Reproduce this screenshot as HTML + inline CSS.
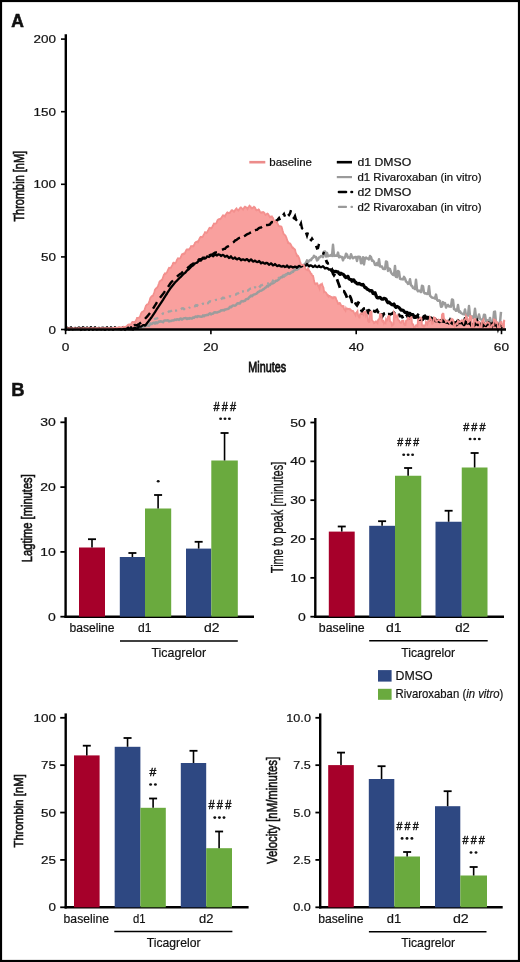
<!DOCTYPE html>
<html><head><meta charset="utf-8"><style>
html,body{margin:0;padding:0;background:#fff;}
svg{display:block;will-change:transform;}
text{font-family:"Liberation Sans", sans-serif;}
</style></head><body>
<svg width="520" height="962" viewBox="0 0 520 962">
<rect x="0" y="0" width="520" height="962" fill="#fff"/>
<text transform="translate(11.36,26.8) scale(0.9563,1)" font-size="18.261" font-weight="bold" fill="#111" stroke="#111" stroke-width="0.6">A</text>
<path d="M66 329.5 L66.0 328.3 L66.5 328.3 L67.0 328.3 L67.5 328.3 L68.0 328.3 L68.5 328.3 L69.0 328.3 L69.5 328.2 L70.0 328.3 L70.5 328.3 L71.0 328.3 L71.5 328.3 L72.0 328.3 L72.5 328.3 L73.0 328.3 L73.5 328.3 L74.0 328.3 L74.5 328.2 L75.0 328.3 L75.5 328.3 L76.0 328.3 L76.5 328.3 L77.0 328.3 L77.5 328.3 L78.0 328.3 L78.5 328.2 L79.0 328.2 L79.5 328.3 L80.0 328.3 L80.5 328.3 L81.0 328.3 L81.5 328.3 L82.0 328.3 L82.5 328.3 L83.0 328.2 L83.5 328.2 L84.0 328.2 L84.5 328.3 L85.0 328.3 L85.5 328.3 L86.0 328.3 L86.5 328.2 L87.0 328.2 L87.5 328.2 L88.0 328.2 L88.5 328.2 L89.0 328.2 L89.5 328.3 L90.0 328.3 L90.5 328.3 L91.0 328.2 L91.5 328.2 L92.0 328.2 L92.5 328.2 L93.0 328.2 L93.5 328.2 L94.0 328.3 L94.5 328.3 L95.0 328.2 L95.5 328.2 L96.0 328.2 L96.5 328.2 L97.0 328.2 L97.5 328.2 L98.0 328.2 L98.5 328.2 L99.0 328.3 L99.5 328.3 L100.0 328.2 L100.5 328.2 L101.0 328.2 L101.5 328.2 L102.0 328.2 L102.5 328.2 L103.0 328.2 L103.5 328.3 L104.0 328.2 L104.5 328.2 L105.0 328.2 L105.5 328.2 L106.0 328.2 L106.5 328.2 L107.0 328.2 L107.5 328.2 L108.0 328.3 L108.5 328.2 L109.0 328.2 L109.5 328.2 L110.0 328.1 L110.5 328.1 L111.0 328.1 L111.5 328.1 L112.0 328.1 L112.5 328.1 L113.0 328.0 L113.5 327.9 L114.0 327.9 L114.5 327.8 L115.0 327.7 L115.5 327.7 L116.0 327.7 L116.5 327.8 L117.0 327.8 L117.5 327.7 L118.0 327.6 L118.5 327.4 L119.0 327.3 L119.5 327.2 L120.0 327.4 L120.5 327.3 L121.0 327.4 L121.5 327.5 L122.0 327.3 L122.5 327.3 L123.0 327.1 L123.5 326.8 L124.0 326.9 L124.5 326.9 L125.0 327.1 L125.5 326.9 L126.0 326.7 L126.5 326.3 L127.0 326.0 L127.5 325.5 L128.0 324.8 L128.5 324.6 L129.0 324.4 L129.5 324.4 L130.0 324.6 L130.5 324.8 L131.0 324.4 L131.5 323.2 L132.0 322.4 L132.5 321.9 L133.0 321.9 L133.5 322.1 L134.0 322.1 L134.5 321.9 L135.0 322.7 L135.5 321.8 L136.0 320.4 L136.5 319.5 L137.0 318.0 L137.5 318.0 L138.0 317.9 L138.5 317.9 L139.0 317.7 L139.5 317.3 L140.0 316.5 L140.5 315.0 L141.0 313.7 L141.5 312.8 L142.0 312.1 L142.5 311.6 L143.0 311.6 L143.5 311.4 L144.0 310.8 L144.5 309.8 L145.0 308.3 L145.5 307.2 L146.0 305.6 L146.5 305.2 L147.0 304.6 L147.5 304.4 L148.0 304.2 L148.5 303.7 L149.0 302.0 L149.5 301.2 L150.0 299.0 L150.5 297.8 L151.0 297.1 L151.5 296.3 L152.0 296.0 L152.5 296.2 L153.0 295.8 L153.5 294.2 L154.0 293.0 L154.5 291.5 L155.0 289.6 L155.5 289.0 L156.0 288.4 L156.5 288.3 L157.0 287.7 L157.5 287.1 L158.0 286.2 L158.5 284.6 L159.0 283.3 L159.5 281.8 L160.0 281.2 L160.5 280.7 L161.0 280.5 L161.5 279.8 L162.0 280.0 L162.5 278.8 L163.0 277.4 L163.5 276.2 L164.0 274.6 L164.5 274.1 L165.0 273.4 L165.5 273.9 L166.0 273.4 L166.5 273.0 L167.0 272.3 L167.5 271.0 L168.0 269.8 L168.5 269.0 L169.0 267.8 L169.5 268.0 L170.0 267.8 L170.5 267.9 L171.0 267.8 L171.5 266.5 L172.0 265.7 L172.5 265.0 L173.0 263.3 L173.5 262.7 L174.0 262.7 L174.5 263.1 L175.0 263.5 L175.5 262.8 L176.0 262.5 L176.5 261.0 L177.0 259.7 L177.5 258.9 L178.0 258.2 L178.5 258.6 L179.0 258.5 L179.5 258.3 L180.0 258.3 L180.5 257.8 L181.0 256.7 L181.5 255.3 L182.0 254.3 L182.5 254.1 L183.0 254.3 L183.5 253.6 L184.0 253.7 L184.5 253.9 L185.0 253.0 L185.5 251.7 L186.0 250.6 L186.5 249.7 L187.0 249.4 L187.5 249.7 L188.0 249.8 L188.5 249.4 L189.0 249.6 L189.5 249.0 L190.0 248.4 L190.5 247.5 L191.0 246.1 L191.5 246.1 L192.0 246.3 L192.5 246.0 L193.0 246.4 L193.5 246.2 L194.0 245.0 L194.5 244.3 L195.0 242.8 L195.5 242.3 L196.0 241.9 L196.5 242.0 L197.0 241.6 L197.5 241.4 L198.0 242.0 L198.5 241.0 L199.0 240.0 L199.5 238.7 L200.0 237.7 L200.5 237.0 L201.0 236.8 L201.5 237.0 L202.0 237.3 L202.5 237.1 L203.0 236.3 L203.5 235.1 L204.0 234.1 L204.5 233.4 L205.0 232.3 L205.5 232.6 L206.0 232.4 L206.5 233.0 L207.0 232.7 L207.5 231.6 L208.0 230.4 L208.5 229.7 L209.0 228.6 L209.5 227.9 L210.0 227.8 L210.5 228.1 L211.0 228.3 L211.5 228.3 L212.0 227.6 L212.5 226.5 L213.0 225.5 L213.5 224.4 L214.0 223.6 L214.5 223.7 L215.0 223.6 L215.5 223.6 L216.0 223.4 L216.5 222.9 L217.0 221.5 L217.5 220.2 L218.0 219.6 L218.5 219.3 L219.0 219.1 L219.5 219.0 L220.0 219.3 L220.5 219.1 L221.0 218.1 L221.5 217.7 L222.0 216.8 L222.5 216.1 L223.0 215.4 L223.5 215.9 L224.0 215.5 L224.5 215.7 L225.0 216.4 L225.5 215.2 L226.0 214.2 L226.5 213.4 L227.0 212.7 L227.5 212.3 L228.0 212.7 L228.5 213.1 L229.0 212.9 L229.5 213.0 L230.0 212.6 L230.5 211.5 L231.0 211.1 L231.5 210.3 L232.0 210.2 L232.5 210.3 L233.0 211.0 L233.5 211.4 L234.0 211.9 L234.5 211.3 L235.0 210.1 L235.5 209.7 L236.0 208.8 L236.5 208.4 L237.0 209.3 L237.5 209.6 L238.0 210.2 L238.5 210.5 L239.0 209.9 L239.5 208.7 L240.0 208.0 L240.5 207.5 L241.0 207.5 L241.5 208.2 L242.0 208.4 L242.5 208.9 L243.0 209.5 L243.5 208.4 L244.0 208.2 L244.5 207.1 L245.0 206.7 L245.5 207.0 L246.0 207.4 L246.5 207.6 L247.0 208.0 L247.5 208.9 L248.0 207.8 L248.5 207.0 L249.0 206.6 L249.5 205.8 L250.0 206.3 L250.5 206.4 L251.0 207.8 L251.5 207.8 L252.0 208.5 L252.5 208.3 L253.0 207.7 L253.5 207.3 L254.0 206.7 L254.5 207.1 L255.0 207.6 L255.5 208.6 L256.0 209.9 L256.5 210.3 L257.0 210.0 L257.5 210.1 L258.0 210.1 L258.5 209.4 L259.0 209.7 L259.5 210.8 L260.0 211.7 L260.5 212.4 L261.0 212.8 L261.5 212.4 L262.0 212.6 L262.5 212.2 L263.0 212.0 L263.5 212.1 L264.0 212.6 L264.5 213.1 L265.0 214.4 L265.5 215.0 L266.0 214.5 L266.5 214.3 L267.0 213.8 L267.5 213.5 L268.0 213.9 L268.5 214.6 L269.0 215.6 L269.5 216.6 L270.0 217.3 L270.5 216.6 L271.0 216.5 L271.5 217.0 L272.0 216.6 L272.5 217.5 L273.0 218.0 L273.5 219.4 L274.0 220.6 L274.5 221.9 L275.0 222.0 L275.5 221.5 L276.0 221.9 L276.5 221.9 L277.0 222.0 L277.5 223.6 L278.0 224.4 L278.5 225.7 L279.0 226.1 L279.5 226.4 L280.0 226.2 L280.5 226.4 L281.0 226.4 L281.5 226.8 L282.0 228.3 L282.5 230.2 L283.0 231.7 L283.5 233.8 L284.0 234.1 L284.5 234.8 L285.0 235.2 L285.5 235.6 L286.0 237.0 L286.5 237.9 L287.0 239.7 L287.5 240.9 L288.0 242.7 L288.5 242.4 L289.0 243.3 L289.5 243.5 L290.0 243.4 L290.5 244.0 L291.0 245.1 L291.5 245.9 L292.0 247.1 L292.5 247.8 L293.0 247.6 L293.5 248.4 L294.0 248.5 L294.5 249.2 L295.0 249.6 L295.5 251.4 L296.0 253.0 L296.5 254.4 L297.0 255.8 L297.5 255.5 L298.0 255.9 L298.5 256.9 L299.0 257.9 L299.5 259.2 L300.0 261.8 L300.5 262.7 L301.0 264.5 L301.5 265.1 L302.0 264.9 L302.5 264.7 L303.0 264.9 L303.5 264.9 L304.0 265.6 L304.5 266.8 L305.0 267.5 L305.5 268.7 L306.0 269.5 L306.5 269.7 L307.0 269.8 L307.5 270.1 L308.0 268.5 L308.5 269.1 L309.0 270.6 L309.5 271.1 L310.0 271.7 L310.5 273.0 L311.0 273.8 L311.5 273.8 L312.0 275.2 L312.5 275.6 L313.0 275.7 L313.5 277.6 L314.0 280.8 L314.5 282.4 L315.0 283.9 L315.5 284.2 L316.0 283.5 L316.5 283.6 L317.0 283.3 L317.5 284.0 L318.0 285.5 L318.5 286.5 L319.0 287.3 L319.5 288.5 L320.0 284.9 L320.5 284.5 L321.0 285.0 L321.5 284.5 L322.0 283.9 L322.5 285.3 L323.0 286.5 L323.5 287.7 L324.0 291.9 L324.5 291.4 L325.0 292.0 L325.5 292.3 L326.0 292.6 L326.5 293.4 L327.0 294.2 L327.5 295.4 L328.0 295.2 L328.5 296.5 L329.0 295.8 L329.5 295.8 L330.0 296.5 L330.5 296.4 L331.0 296.8 L331.5 297.4 L332.0 297.2 L332.5 298.3 L333.0 298.3 L333.5 298.2 L334.0 297.0 L334.5 297.3 L335.0 297.1 L335.5 297.3 L336.0 298.6 L336.5 299.9 L337.0 301.0 L337.5 302.0 L338.0 303.7 L338.5 303.4 L339.0 303.7 L339.5 303.0 L340.0 303.1 L340.5 304.1 L341.0 305.4 L341.5 305.6 L342.0 306.3 L342.5 306.6 L343.0 305.9 L343.5 306.0 L344.0 308.7 L344.5 309.6 L345.0 309.9 L345.5 310.7 L346.0 308.2 L346.5 309.2 L347.0 309.0 L347.5 308.6 L348.0 309.1 L348.5 308.9 L349.0 308.8 L349.5 309.4 L350.0 309.1 L350.5 309.6 L351.0 310.4 L351.5 310.4 L352.0 311.0 L352.5 310.9 L353.0 310.9 L353.5 311.6 L354.0 312.7 L354.5 313.6 L355.0 314.3 L355.5 315.2 L356.0 312.8 L356.5 312.5 L357.0 311.9 L357.5 311.1 L358.0 314.9 L358.5 316.4 L359.0 316.9 L359.5 318.3 L360.0 314.3 L360.5 313.7 L361.0 313.9 L361.5 313.6 L362.0 313.2 L362.5 313.5 L363.0 314.1 L363.5 314.8 L364.0 312.1 L364.5 312.2 L365.0 312.0 L365.5 311.7 L366.0 315.6 L366.5 314.5 L367.0 314.5 L367.5 315.2 L368.0 321.0 L368.5 321.6 L369.0 322.1 L369.5 321.8 L370.0 312.4 L370.5 312.1 L371.0 311.7 L371.5 311.5 L372.0 320.2 L372.5 320.6 L373.0 321.3 L373.5 321.8 L374.0 323.3 L374.5 323.1 L375.0 322.5 L375.5 321.5 L376.0 321.3 L376.5 321.8 L377.0 322.7 L377.5 323.2 L378.0 320.4 L378.5 319.4 L379.0 319.0 L379.5 318.8 L380.0 314.1 L380.5 314.0 L381.0 314.9 L381.5 314.8 L382.0 320.5 L382.5 321.4 L383.0 320.9 L383.5 320.7 L384.0 323.2 L384.5 322.3 L385.0 322.5 L385.5 323.0 L386.0 319.3 L386.5 320.2 L387.0 320.5 L387.5 320.0 L388.0 316.7 L388.5 316.0 L389.0 316.2 L389.5 316.1 L390.0 321.3 L390.5 321.5 L391.0 322.1 L391.5 322.5 L392.0 325.7 L392.5 325.3 L393.0 324.8 L393.5 324.4 L394.0 312.5 L394.5 313.4 L395.0 313.5 L395.5 314.4 L396.0 317.2 L396.5 317.0 L397.0 316.5 L397.5 315.8 L398.0 319.8 L398.5 320.1 L399.0 320.5 L399.5 321.0 L400.0 322.2 L400.5 322.8 L401.0 322.8 L401.5 322.4 L402.0 320.8 L402.5 320.7 L403.0 320.7 L403.5 320.8 L404.0 323.9 L404.5 324.8 L405.0 325.0 L405.5 325.0 L406.0 320.9 L406.5 320.6 L407.0 320.1 L407.5 319.7 L408.0 317.7 L408.5 317.9 L409.0 318.2 L409.5 318.7 L410.0 318.5 L410.5 318.1 L411.0 317.3 L411.5 317.2 L412.0 323.3 L412.5 324.4 L413.0 324.3 L413.5 325.0 L414.0 327.9 L414.5 327.7 L415.0 327.1 L415.5 326.6 L416.0 325.3 L416.5 325.1 L417.0 325.7 L417.5 326.1 L418.0 319.5 L418.5 319.8 L419.0 319.4 L419.5 319.1 L420.0 318.3 L420.5 317.6 L421.0 317.5 L421.5 318.6 L422.0 325.2 L422.5 325.8 L423.0 325.8 L423.5 325.5 L424.0 326.5 L424.5 325.5 L425.0 325.5 L425.5 325.3 L426.0 321.9 L426.5 322.6 L427.0 322.9 L427.5 324.0 L428.0 321.8 L428.5 320.7 L429.0 320.4 L429.5 320.3 L430.0 317.5 L430.5 318.4 L431.0 319.1 L431.5 319.5 L432.0 323.7 L432.5 323.8 L433.0 323.2 L433.5 322.5 L434.0 317.4 L434.5 317.7 L435.0 318.1 L435.5 318.4 L436.0 321.0 L436.5 321.5 L437.0 321.0 L437.5 320.6 L438.0 320.2 L438.5 319.6 L439.0 319.7 L439.5 320.4 L440.0 320.5 L440.5 321.2 L441.0 321.5 L441.5 321.3 L442.0 314.6 L442.5 314.0 L443.0 313.6 L443.5 313.8 L444.0 318.9 L444.5 319.1 L445.0 320.0 L445.5 320.2 L446.0 322.0 L446.5 321.7 L447.0 320.8 L447.5 320.6 L448.0 321.1 L448.5 321.9 L449.0 321.8 L449.5 322.9 L450.0 321.5 L450.5 321.0 L451.0 320.0 L451.5 320.2 L452.0 318.8 L452.5 319.1 L453.0 319.6 L453.5 320.5 L454.0 325.5 L454.5 326.4 L455.0 325.2 L455.5 325.1 L456.0 323.9 L456.5 323.3 L457.0 323.4 L457.5 323.9 L458.0 320.8 L458.5 321.6 L459.0 321.7 L459.5 321.5 L460.0 322.0 L460.5 321.3 L461.0 321.0 L461.5 321.1 L462.0 320.2 L462.5 320.9 L463.0 321.3 L463.5 322.3 L464.0 320.0 L464.5 319.7 L465.0 319.3 L465.5 318.8 L466.0 316.2 L466.5 317.5 L467.0 317.4 L467.5 318.3 L468.0 322.4 L468.5 322.1 L469.0 321.4 L469.5 320.9 L470.0 316.0 L470.5 316.1 L471.0 316.7 L471.5 317.3 L472.0 329.0 L472.5 329.0 L473.0 329.0 L473.5 329.0 L474.0 319.6 L474.5 319.0 L475.0 318.9 L475.5 319.3 L476.0 321.7 L476.5 321.8 L477.0 322.7 L477.5 322.3 L478.0 322.7 L478.5 321.9 L479.0 321.6 L479.5 322.0 L480.0 328.8 L480.5 329.0 L481.0 329.0 L481.5 329.0 L482.0 321.3 L482.5 320.7 L483.0 320.5 L483.5 319.7 L484.0 323.1 L484.5 323.6 L485.0 323.8 L485.5 324.4 L486.0 323.6 L486.5 323.5 L487.0 322.4 L487.5 322.1 L488.0 322.4 L488.5 322.7 L489.0 323.1 L489.5 323.4 L490.0 327.8 L490.5 328.7 L491.0 328.1 L491.5 327.5 L492.0 325.1 L492.5 324.6 L493.0 324.5 L493.5 325.0 L494.0 319.4 L494.5 319.7 L495.0 320.2 L495.5 320.2 L496.0 323.0 L496.5 322.5 L497.0 322.3 L497.5 322.5 L498.0 327.9 L498.5 328.2 L499.0 328.8 L499.5 329.0 L500.0 323.2 L500.5 322.6 L501.0 322.0 L501.5 322.0 L502.0 324.8 L502.5 325.4 L503.0 325.5 L503.5 326.2 L504.0 320.7 L504.5 320.8 L505.0 320.4 L505 329.5 Z" fill="#f9a09e"/>
<path d="M66.0 329.2 L67.0 328.9 L68.0 328.2 L69.0 329.8 L70.0 329.7 L71.0 328.6 L72.0 329.5 L73.0 328.9 L74.0 329.3 L75.0 329.2 L76.0 329.4 L77.0 328.9 L78.0 328.4 L79.0 329.5 L80.0 328.9 L81.0 328.9 L82.0 329.4 L83.0 329.3 L84.0 329.8 L85.0 328.8 L86.0 329.2 L87.0 328.3 L88.0 328.4 L89.0 328.6 L90.0 328.6 L91.0 328.9 L92.0 328.6 L93.0 329.7 L94.0 328.9 L95.0 328.8 L96.0 329.6 L97.0 329.5 L98.0 329.4 L99.0 329.7 L100.0 329.4 L101.0 328.7 L102.0 329.7 L103.0 328.2 L104.0 329.6 L105.0 328.9 L106.0 328.7 L107.0 329.0 L108.0 328.8 L109.0 329.6 L110.0 329.5 L111.0 329.4 L112.0 328.6 L113.0 328.9 L114.0 328.3 L115.0 329.4 L116.0 328.3 L117.0 328.8 L118.0 328.4 L119.0 329.6 L120.0 329.7 L121.0 328.7 L122.0 329.6 L123.0 328.5 L124.0 329.3 L125.0 328.6 L126.0 328.9 L127.0 329.2 L128.0 328.8 L129.0 328.5 L130.0 329.1 L131.0 329.5 L132.0 329.8 L133.0 328.7 L134.0 328.6 L135.0 328.3 L136.0 328.3 L137.0 327.7 L138.0 327.8 L139.0 328.3 L140.0 327.1 L141.0 327.6 L142.0 326.8 L143.0 326.4 L144.0 326.6 L145.0 326.2 L146.0 326.0 L147.0 325.2 L148.0 325.6 L149.0 325.9 L150.0 324.2 L151.0 323.7 L152.0 323.9 L153.0 322.9 L154.0 322.6 L155.0 323.6 L156.0 322.3 L157.0 323.2 L158.0 322.5 L159.0 321.4 L160.0 321.7 L161.0 321.2 L162.0 321.8 L163.0 322.2 L164.0 320.7 L165.0 320.5 L166.0 320.4 L167.0 320.6 L168.0 320.3 L169.0 321.4 L170.0 320.9 L171.0 321.1 L172.0 320.4 L173.0 320.6 L174.0 320.3 L175.0 319.5 L176.0 320.0 L177.0 319.3 L178.0 319.4 L179.0 319.9 L180.0 318.8 L181.0 318.6 L182.0 319.6 L183.0 318.8 L184.0 318.2 L185.0 318.3 L186.0 318.1 L187.0 319.0 L188.0 318.2 L189.0 318.8 L190.0 318.0 L191.0 318.5 L192.0 318.4 L193.0 317.6 L194.0 317.8 L195.0 316.9 L196.0 316.4 L197.0 317.1 L198.0 316.0 L199.0 316.5 L200.0 316.6 L201.0 316.7 L202.0 316.7 L203.0 315.4 L204.0 316.2 L205.0 315.3 L206.0 315.3 L207.0 314.8 L208.0 315.1 L209.0 314.0 L210.0 313.3 L211.0 314.4 L212.0 313.8 L213.0 313.7 L214.0 312.4 L215.0 312.3 L216.0 312.6 L217.0 312.5 L218.0 312.1 L219.0 311.7 L220.0 311.4 L221.0 310.3 L222.0 310.5 L223.0 310.0 L224.0 310.4 L225.0 309.6 L226.0 309.5 L227.0 309.0 L228.0 308.9 L229.0 308.4 L230.0 306.7 L231.0 307.2 L232.0 306.3 L233.0 305.4 L234.0 305.6 L235.0 305.7 L236.0 305.2 L237.0 303.6 L238.0 303.2 L239.0 303.5 L240.0 303.4 L241.0 301.5 L242.0 301.0 L243.0 301.5 L244.0 300.9 L245.0 300.7 L246.0 299.2 L247.0 299.1 L248.0 299.0 L249.0 297.6 L250.0 296.8 L251.0 295.6 L252.0 296.3 L253.0 295.1 L254.0 294.4 L255.0 294.2 L256.0 293.9 L257.0 293.3 L258.0 291.9 L259.0 291.7 L260.0 290.7 L261.0 290.8 L262.0 290.2 L263.0 289.4 L264.0 289.0 L265.0 287.9 L266.0 287.4 L267.0 286.1 L268.0 286.4 L269.0 285.1 L270.0 285.0 L271.0 283.5 L272.0 283.5 L273.0 283.2 L274.0 282.6 L275.0 281.8 L276.0 280.7 L277.0 280.7 L278.0 280.0 L279.0 279.2 L280.0 278.2 L281.0 277.2 L282.0 277.2 L283.0 275.7 L284.0 276.5 L285.0 275.0 L286.0 274.4 L287.0 274.1 L288.0 273.1 L289.0 273.8 L290.0 273.5 L291.0 272.7 L292.0 271.8 L293.0 271.9 L294.0 270.4 L295.0 270.1 L296.0 269.2 L297.0 269.0 L298.0 269.1 L299.0 268.1 L300.0 267.3 L301.0 266.8 L302.0 266.2 L303.0 265.5 L304.0 264.6 L305.0 264.1 L306.0 262.7 L307.0 260.4 L308.0 262.2 L309.0 260.7 L310.0 260.1 L311.0 260.2 L312.0 258.4 L313.0 257.8 L314.0 255.8 L315.0 256.9 L316.0 257.1 L317.0 260.4 L318.0 259.6 L319.0 257.5 L320.0 257.3 L321.0 256.0 L322.0 256.2 L323.0 257.2 L324.0 251.8 L325.0 251.6 L326.0 256.6 L327.0 252.9 L328.0 256.3 L329.0 255.7 L330.0 255.8 L331.0 254.9 L332.0 256.0 L333.0 244.8 L334.0 255.9 L335.0 255.5 L336.0 255.8 L337.0 255.8 L338.0 252.6 L339.0 257.3 L340.0 256.2 L341.0 256.9 L342.0 257.0 L343.0 260.3 L344.0 257.5 L345.0 257.6 L346.0 253.7 L347.0 254.7 L348.0 257.6 L349.0 257.3 L350.0 258.3 L351.0 254.2 L352.0 256.9 L353.0 258.2 L354.0 257.5 L355.0 257.1 L356.0 256.9 L357.0 261.0 L358.0 256.8 L359.0 256.8 L360.0 256.9 L361.0 263.3 L362.0 262.8 L363.0 257.2 L364.0 264.4 L365.0 257.9 L366.0 257.6 L367.0 258.4 L368.0 258.6 L369.0 259.5 L370.0 256.0 L371.0 257.1 L372.0 260.7 L373.0 260.6 L374.0 261.9 L375.0 264.8 L376.0 265.1 L377.0 263.1 L378.0 265.3 L379.0 259.2 L380.0 266.5 L381.0 266.4 L382.0 266.6 L383.0 268.7 L384.0 268.9 L385.0 269.1 L386.0 261.5 L387.0 261.9 L388.0 270.9 L389.0 268.4 L390.0 269.1 L391.0 272.4 L392.0 273.9 L393.0 274.8 L394.0 275.1 L395.0 266.0 L396.0 276.8 L397.0 277.1 L398.0 270.9 L399.0 271.7 L400.0 278.8 L401.0 279.2 L402.0 278.9 L403.0 279.4 L404.0 276.9 L405.0 278.4 L406.0 281.5 L407.0 282.2 L408.0 283.9 L409.0 283.6 L410.0 279.2 L411.0 285.4 L412.0 285.9 L413.0 287.9 L414.0 288.0 L415.0 289.0 L416.0 279.8 L417.0 289.7 L418.0 291.3 L419.0 290.5 L420.0 291.1 L421.0 292.2 L422.0 285.7 L423.0 286.3 L424.0 292.6 L425.0 293.4 L426.0 293.3 L427.0 293.9 L428.0 293.8 L429.0 286.2 L430.0 295.6 L431.0 296.7 L432.0 297.5 L433.0 297.8 L434.0 297.9 L435.0 298.6 L436.0 294.6 L437.0 299.8 L438.0 300.8 L439.0 300.3 L440.0 301.0 L441.0 306.8 L442.0 306.5 L443.0 302.1 L444.0 303.9 L445.0 303.0 L446.0 307.6 L447.0 305.6 L448.0 304.9 L449.0 306.4 L450.0 306.2 L451.0 306.7 L452.0 299.5 L453.0 299.9 L454.0 309.2 L455.0 309.2 L456.0 310.7 L457.0 310.6 L458.0 305.1 L459.0 311.9 L460.0 311.3 L461.0 313.0 L462.0 313.5 L463.0 314.1 L464.0 314.2 L465.0 309.4 L466.0 315.6 L467.0 315.4 L468.0 315.5 L469.0 306.1 L470.0 316.1 L471.0 317.3 L472.0 316.4 L473.0 318.0 L474.0 316.8 L475.0 308.8 L476.0 317.7 L477.0 318.4 L478.0 318.2 L479.0 314.5 L480.0 318.7 L481.0 319.4 L482.0 319.9 L483.0 319.9 L484.0 314.7 L485.0 315.0 L486.0 321.4 L487.0 320.3 L488.0 320.4 L489.0 322.0 L490.0 317.9 L491.0 322.1 L492.0 322.0 L493.0 323.0 L494.0 312.0 L495.0 311.6 L496.0 322.9 L497.0 323.0 L498.0 323.1 L499.0 323.6 L500.0 322.3 L501.0 311.9" fill="none" stroke="#9c9c9c" stroke-width="2.5" stroke-linejoin="round"/>
<path d="M66.0 328.7 L67.0 328.6 L68.0 328.8 L69.0 329.3 L70.0 328.4 M74.0 329.3 L75.0 329.5 L76.0 329.4 M79.0 329.8 L80.0 329.2 L81.0 329.7 L82.0 329.7 L83.0 328.6 M86.0 329.2 L87.0 328.6 L88.0 328.4 M91.0 329.5 L92.0 328.9 L93.0 328.6 L94.0 328.2 L95.0 329.3 M99.0 329.7 L100.0 328.2 M104.0 329.8 L105.0 328.3 L106.0 329.4 L107.0 328.6 M110.0 328.4 L111.0 328.7 L112.0 329.6 M116.0 328.4 L117.0 328.4 L118.0 328.8 L119.0 329.4 L120.0 328.9 M124.0 328.9 L125.0 329.2 L126.0 329.3 M130.0 329.4 L131.0 329.5 L132.0 329.4 L133.0 328.9 L134.0 329.6 M138.0 328.4 L139.0 327.1 M142.0 326.4 L143.0 326.6 L144.0 326.4 L145.0 325.5 L146.0 324.9 M149.0 323.1 L150.0 321.8 M154.0 319.3 L155.0 318.8 L156.0 318.6 L157.0 318.5 L158.0 317.5 M162.0 314.5 L163.0 313.4 L164.0 313.6 M168.0 312.4 L169.0 311.3 L170.0 311.3 L171.0 311.0 L172.0 310.4 M175.0 310.7 L176.0 310.6 L177.0 310.2 M181.0 309.3 L182.0 308.4 L183.0 308.2 L184.0 309.2 L185.0 308.2 M189.0 308.3 L190.0 307.0 M194.0 306.0 L195.0 306.2 L196.0 305.2 L197.0 305.7 L198.0 304.3 M202.0 304.3 L203.0 303.6 L204.0 303.8 M207.0 303.1 L208.0 303.2 L209.0 301.9 L210.0 301.3 L211.0 301.6 M215.0 300.3 L216.0 299.8 L217.0 299.8 M221.0 299.4 L222.0 298.4 L223.0 297.6 L224.0 298.1 L225.0 297.3 M229.0 296.8 L230.0 296.2 L231.0 296.6 M235.0 294.5 L236.0 294.6 L237.0 293.5 L238.0 293.4 L239.0 292.6 M242.0 291.5 L243.0 291.4 L244.0 291.3 M247.0 290.6 L248.0 290.6 L249.0 289.5 L250.0 288.7 L251.0 288.5 M254.0 287.5 L255.0 287.2 L256.0 287.9 M259.0 285.8 L260.0 286.8 L261.0 285.3 L262.0 285.1 L263.0 284.6 M267.0 283.5 L268.0 283.6 L269.0 282.9 M272.0 282.4 L273.0 280.8 L274.0 281.7 L275.0 281.2 M278.0 278.4 L279.0 277.8 L280.0 278.2 M283.0 276.0 L284.0 275.4 L285.0 275.5 L286.0 275.3 L287.0 274.2 M291.0 272.6 L292.0 272.5 M296.0 269.8 L297.0 269.6 L298.0 268.0" fill="none" stroke="#a2a2a2" stroke-width="2.3"/>
<path d="M66.0 328.0 L67.0 328.0 L68.0 328.5 L69.0 329.4 L70.0 328.1 L71.0 327.9 L72.0 328.3 L73.0 329.4 L74.0 328.7 L75.0 327.9 L76.0 328.4 L77.0 329.0 L78.0 329.0 L79.0 327.4 L80.0 328.0 L81.0 329.5 L82.0 328.9 L83.0 327.2 L84.0 328.0 L85.0 329.6 L86.0 328.6 L87.0 327.4 L88.0 328.3 L89.0 329.7 L90.0 328.0 L91.0 327.3 L92.0 328.4 L93.0 329.7 L94.0 328.3 L95.0 327.2 L96.0 328.7 L97.0 329.6 L98.0 328.1 L99.0 327.8 L100.0 328.6 L101.0 329.3 L102.0 328.6 L103.0 327.6 L104.0 328.8 L105.0 329.9 L106.0 328.3 L107.0 327.2 L108.0 328.4 L109.0 329.5 L110.0 328.3 L111.0 327.3 L112.0 328.2 L113.0 329.7 L114.0 328.7 L115.0 327.2 L116.0 328.3 L117.0 329.2 L118.0 328.1 L119.0 327.9 L120.0 328.3 L121.0 329.5 L122.0 328.4 L123.0 327.2 L124.0 328.0 L125.0 329.6 L126.0 328.6 L127.0 327.6 L128.0 328.1 L129.0 329.2 L130.0 328.4 L131.0 327.2 L132.0 328.4 L133.0 329.6 L134.0 328.0 L135.0 327.9 L136.0 328.2 L137.0 328.7 L138.0 327.7 L139.0 326.1 L140.0 326.7 L141.0 326.6 L142.0 325.9 L143.0 325.1 L144.0 325.1 L145.0 325.6 L146.0 324.6 L147.0 323.2 L148.0 321.9 L149.0 320.6 L150.0 319.4 L151.0 318.0 L152.0 316.6 L153.0 315.1 L154.0 313.7 L155.0 312.2 L156.0 310.5 L157.0 308.9 L158.0 307.3 L159.0 305.8 L160.0 304.3 L161.0 302.8 L162.0 301.3 L163.0 299.8 L164.0 298.2 L165.0 296.6 L166.0 295.0 L167.0 293.5 L168.0 291.9 L169.0 290.4 L170.0 288.8 L171.0 287.5 L172.0 286.3 L173.0 285.1 L174.0 283.8 L175.0 282.6 L176.0 281.5 L177.0 280.6 L178.0 279.5 L179.0 278.4 L180.0 277.5 L181.0 276.7 L182.0 275.6 L183.0 274.4 L184.0 273.6 L185.0 272.9 L186.0 271.7 L187.0 270.5 L188.0 269.8 L189.0 269.0 L190.0 268.0 L191.0 266.8 L192.0 265.9 L193.0 265.4 L194.0 264.5 L195.0 263.3 L196.0 263.0 L197.0 262.6 L198.0 261.6 L199.0 260.3 L200.0 260.5 L201.0 260.6 L202.0 259.2 L203.0 258.3 L204.0 258.6 L205.0 258.6 L206.0 258.0 L207.0 256.4 L208.0 256.7 L209.0 257.0 L210.0 256.0 L211.0 255.4 L212.0 255.2 L213.0 256.3 L214.0 255.4 L215.0 253.8 L216.0 255.0 L217.0 255.6 L218.0 254.5 L219.0 254.5 L220.0 254.8 L221.0 256.0 L222.0 255.3 L223.0 254.9 L224.0 255.6 L225.0 256.8 L226.0 256.4 L227.0 255.8 L228.0 256.8 L229.0 258.0 L230.0 257.5 L231.0 256.3 L232.0 257.8 L233.0 258.8 L234.0 258.3 L235.0 257.4 L236.0 258.7 L237.0 259.4 L238.0 258.8 L239.0 258.2 L240.0 259.1 L241.0 260.3 L242.0 259.6 L243.0 259.3 L244.0 259.8 L245.0 260.3 L246.0 259.6 L247.0 259.1 L248.0 260.1 L249.0 261.3 L250.0 260.3 L251.0 259.4 L252.0 260.4 L253.0 261.6 L254.0 261.2 L255.0 260.6 L256.0 261.5 L257.0 262.1 L258.0 261.9 L259.0 261.0 L260.0 261.8 L261.0 263.4 L262.0 262.7 L263.0 262.5 L264.0 263.2 L265.0 263.7 L266.0 263.0 L267.0 262.8 L268.0 263.7 L269.0 264.8 L270.0 264.1 L271.0 263.3 L272.0 264.2 L273.0 265.4 L274.0 265.0 L275.0 264.0 L276.0 265.0 L277.0 266.0 L278.0 265.8 L279.0 265.2 L280.0 265.9 L281.0 266.4 L282.0 266.6 L283.0 265.9 L284.0 266.3 L285.0 267.0 L286.0 266.7 L287.0 265.5 L288.0 266.7 L289.0 267.6 L290.0 266.7 L291.0 266.5 L292.0 266.9 L293.0 267.5 L294.0 267.2 L295.0 266.6 L296.0 266.9 L297.0 267.8 L298.0 266.7 L299.0 266.0 L300.0 266.1 L301.0 266.6 L302.0 266.2 L303.0 265.1 L304.0 265.5 L305.0 266.0 L306.0 265.5 L307.0 264.0 L308.0 265.3 L309.0 266.4 L310.0 265.3 L311.0 265.4 L312.0 266.0 L313.0 267.0 L314.0 266.5 L315.0 265.4 L316.0 266.6 L317.0 267.0 L318.0 266.8 L319.0 265.7 L320.0 266.9 L321.0 267.3 L322.0 266.8 L323.0 266.2 L324.0 267.3 L325.0 268.5 L326.0 268.0 L327.0 268.1 L328.0 268.6 L329.0 269.7 L330.0 269.5 L331.0 269.3 L332.0 270.5" fill="none" stroke="#000" stroke-width="2.3" stroke-linejoin="round"/>
<path d="M331.0 270.2 L332.0 270.9 L333.0 270.9 L334.0 271.6 L335.0 271.6 L336.0 271.4 L337.0 272.0 L338.0 271.8 L339.0 273.5 L340.0 274.4 L341.0 273.2 L342.0 273.9 L343.0 274.3 L344.0 275.1 L345.0 276.9 L346.0 277.6 L347.0 276.7 L348.0 276.3 L349.0 278.9 L350.0 279.4 L351.0 279.5 L352.0 281.2 L353.0 279.8 L354.0 280.1 L355.0 282.1 L356.0 282.4 L357.0 283.7 L358.0 284.0 L359.0 283.4 L360.0 284.1 L361.0 284.5 L362.0 285.0 L363.0 284.5 L364.0 286.0 L365.0 287.7 L366.0 287.6 L367.0 289.0 L368.0 289.5 L369.0 290.1 L370.0 290.9 L371.0 290.5 L372.0 290.7 L373.0 293.4 L374.0 293.6 L375.0 292.6 L376.0 295.5 L377.0 297.7 L378.0 297.9 L379.0 297.6 L380.0 297.3 L381.0 298.4 L382.0 299.2 L383.0 299.2 L384.0 298.3 L385.0 298.5 L386.0 299.1 L387.0 301.3 L388.0 302.7 L389.0 302.1 L390.0 303.2 L391.0 303.9 L392.0 304.7 L393.0 304.8 L394.0 304.0 L395.0 306.3 L396.0 307.4 L397.0 306.4 L398.0 306.9 L399.0 307.5 L400.0 308.7 L401.0 310.2 L402.0 310.0 L403.0 310.3 L404.0 311.2 L405.0 312.4 L406.0 312.6 L407.0 312.3 L408.0 314.1 L409.0 313.4 L410.0 313.4 L411.0 314.9 L412.0 314.6 L413.0 314.7 L414.0 316.4 L415.0 317.1 L416.0 316.4 L417.0 316.5 L418.0 317.5 L419.0 318.9 L420.0 319.5 L421.0 319.3 L422.0 319.9 L423.0 318.4 L424.0 316.4 L425.0 316.0 L426.0 317.7 L427.0 317.8 L428.0 317.3 L429.0 319.6 L430.0 318.8 L431.0 317.9 L432.0 318.8 L433.0 319.9 L434.0 319.2 L435.0 319.0 L436.0 320.7 L437.0 320.7 L438.0 320.5 L439.0 321.4 L440.0 321.6 L441.0 320.8 L442.0 320.5 L443.0 321.2 L444.0 321.3 L445.0 321.5 L446.0 321.9 L447.0 322.3 L448.0 321.8 L449.0 321.2 L450.0 322.2 L451.0 322.5 L452.0 323.1 L453.0 323.2 L454.0 323.1 L455.0 324.3 L456.0 324.3 L457.0 322.2 L458.0 320.7 L459.0 322.0 L460.0 322.8 L461.0 322.6 L462.0 322.8 L463.0 323.6 L464.0 324.6 L465.0 323.0 L466.0 322.4 L467.0 323.0 L468.0 322.0 L469.0 322.8 L470.0 323.7 L471.0 323.6 L472.0 325.6 L473.0 326.3 L474.0 325.4 L475.0 324.3 L476.0 322.7 L477.0 324.0 L478.0 324.7 L479.0 323.9 L480.0 324.0 L481.0 324.1 L482.0 326.2 L483.0 326.0 L484.0 324.1 L485.0 324.6 L486.0 325.1 L487.0 324.2 L488.0 322.8 L489.0 323.3 L490.0 324.5 L491.0 324.5 L492.0 324.0 L493.0 324.0 L494.0 324.5 L495.0 325.2 L496.0 324.4 L497.0 324.2 L498.0 325.7 L499.0 326.0 L500.0 324.9 L501.0 324.8 L502.0 325.7" fill="none" stroke="#000" stroke-width="3.2" stroke-linejoin="round"/>
<path d="M66.0 328.6 L67.0 327.7 L68.0 328.4 L69.0 328.9 L70.0 328.1 L71.0 327.6 L72.0 328.9 L73.0 329.5 M77.0 328.6 L78.0 328.1 L79.0 328.4 L80.0 328.3 L81.0 329.5 L82.0 328.5 L83.0 328.1 L84.0 328.5 M88.0 328.4 L89.0 329.3 L90.0 328.3 L91.0 327.7 L92.0 328.9 L93.0 329.0 L94.0 328.2 L95.0 328.3 M99.0 327.8 L100.0 328.6 L101.0 329.0 L102.0 328.0 L103.0 328.5 L104.0 328.3 L105.0 328.9 L106.0 328.9 M110.0 328.0 L111.0 328.2 L112.0 328.6 L113.0 329.2 L114.0 328.6 L115.0 327.9 L116.0 328.7 L117.0 329.0 L118.0 328.7 M122.0 328.5 L123.0 328.1 L124.0 328.2 L125.0 329.3 L126.0 328.1 L127.0 327.2 L128.0 327.8 L129.0 327.4 M134.0 325.6 L135.0 324.8 L136.0 325.1 L137.0 325.5 L138.0 324.4 L139.0 324.0 L140.0 323.4 L141.0 322.5 M145.0 318.8 L146.0 317.7 L147.0 316.6 L148.0 315.4 L149.0 314.2 L150.0 313.0 M153.0 308.7 L154.0 307.1 L155.0 305.5 L156.0 303.8 L157.0 302.2 M160.0 297.8 L161.0 296.5 L162.0 295.2 L163.0 294.0 L164.0 292.6 L165.0 291.1 M168.0 286.9 L169.0 285.5 L170.0 284.0 L171.0 282.6 L172.0 281.5 L173.0 280.5 M177.0 276.7 L178.0 275.7 L179.0 274.9 L180.0 274.1 L181.0 273.7 L182.0 272.5 L183.0 271.6 M187.0 268.2 L188.0 267.6 L189.0 266.8 L190.0 265.9 L191.0 264.9 L192.0 264.4 L193.0 263.8 L194.0 262.8 M198.0 260.7 L199.0 259.4 L200.0 259.2 L201.0 259.5 L202.0 258.7 L203.0 257.7 L204.0 257.7 L205.0 257.4 M209.0 255.8 L210.0 255.0 L211.0 254.7 L212.0 254.4 L213.0 254.0 L214.0 253.2 L215.0 252.6 L216.0 252.4 L217.0 252.4 M222.0 249.9 L223.0 249.4 L224.0 248.9 L225.0 248.8 L226.0 247.6 L227.0 246.8 L228.0 246.4 L229.0 246.0 M233.0 242.5 L234.0 241.9 L235.0 240.6 L236.0 240.2 L237.0 239.6 L238.0 238.7 L239.0 238.0 L240.0 237.7 M244.0 236.3 L245.0 235.8 L246.0 235.0 L247.0 234.3 L248.0 233.9 L249.0 233.5 L250.0 232.8 L251.0 232.4 M255.0 230.3 L256.0 229.9 L257.0 229.9 L258.0 228.9 L259.0 228.1 L260.0 227.6 L261.0 227.5 L262.0 226.8 M266.0 225.1 L267.0 225.0 L268.0 225.1 L269.0 224.7 L270.0 224.5 L271.0 222.9 L272.0 222.0 L273.0 222.2 M276.0 219.3 L277.0 221.0 L278.0 219.1 L279.0 218.0 L280.0 220.3 M283.0 215.3 L284.0 214.0 L285.0 216.7 M288.0 214.0 L289.0 215.0 L290.0 213.4 L291.0 210.1 M293.0 217.1 L294.0 218.1 L295.0 216.1 L296.0 219.6 L297.0 220.7 M300.0 225.8 L301.0 223.5 L302.0 228.4 L303.0 229.1 M306.0 232.7 L307.0 235.6 L308.0 232.5 M310.0 239.2 L311.0 240.1 L312.0 238.5 L313.0 240.1 M316.0 245.9 L317.0 248.4 L318.0 248.0 L319.0 243.9 M323.0 254.7 L324.0 251.8 M327.0 263.0 L328.0 263.2" fill="none" stroke="#000" stroke-width="2.4"/>
<path d="M326.0 259.9 L327.0 262.6 L328.0 263.3 L329.0 263.1 M331.0 271.5 L332.0 270.1 L333.0 273.7 L334.0 275.2 L335.0 273.8 M337.0 279.3 L338.0 282.1 L339.0 284.9 L340.0 287.8 M343.0 291.2 L344.0 291.3 L345.0 293.1 L346.0 295.1 L347.0 297.7 M349.0 295.7 L350.0 296.3 L351.0 298.4 L352.0 301.8 L353.0 301.8 M355.0 302.4 L356.0 304.1 L357.0 305.3 L358.0 303.5 L359.0 301.5 M361.0 309.5 L362.0 311.7 L363.0 309.5 L364.0 308.5 L365.0 308.3 M367.0 309.3 L368.0 312.5 L369.0 310.5 L370.0 309.3 M373.0 310.8 L374.0 311.0 L375.0 311.6 L376.0 310.9 L377.0 310.1 L378.0 312.1 L379.0 312.7 M381.0 313.3 L382.0 316.9 L383.0 315.3 L384.0 313.7 L385.0 313.4 M388.0 314.2 L389.0 314.1 L390.0 314.6 L391.0 314.0 L392.0 313.8 L393.0 312.9 L394.0 312.8 L395.0 314.3 M398.0 315.0 L399.0 314.8 L400.0 316.1 L401.0 316.1 L402.0 316.2 L403.0 318.3 M406.0 316.4 L407.0 315.3 L408.0 317.4 L409.0 317.8 L410.0 315.7 M413.0 316.0 L414.0 317.4 L415.0 317.5 L416.0 317.2 L417.0 316.3 L418.0 314.9 L419.0 315.4 M421.0 320.3 L422.0 319.0 L423.0 319.2 L424.0 318.1 L425.0 317.8 L426.0 318.3 L427.0 317.7 L428.0 318.0 M431.0 320.6 L432.0 320.6 L433.0 319.6 L434.0 320.8 L435.0 320.5 L436.0 320.9 L437.0 321.5 M440.0 321.1 L441.0 320.4 L442.0 320.5 L443.0 320.1 L444.0 320.7 L445.0 321.3 L446.0 320.0 M448.0 324.3 L449.0 322.5 L450.0 320.3 L451.0 322.5 M454.0 325.8 L455.0 322.6 L456.0 322.5 L457.0 324.5 L458.0 323.6 M461.0 321.7 L462.0 321.9 L463.0 321.7 L464.0 321.9 L465.0 318.6 L466.0 318.8 M469.0 322.4 L470.0 322.6 L471.0 323.7 L472.0 326.3 L473.0 324.8 L474.0 324.8 M476.0 322.1 L477.0 320.6 L478.0 323.1 L479.0 323.0 L480.0 323.2 M482.0 323.9 L483.0 322.5 L484.0 324.1 L485.0 325.3 L486.0 325.7 L487.0 325.6 M490.0 323.8 L491.0 324.3 L492.0 326.2 L493.0 323.5 L494.0 322.1 M497.0 324.7 L498.0 328.5 L499.0 325.3 M501.0 327.7 L502.0 328.4" fill="none" stroke="#000" stroke-width="2.8"/>
<path d="M66.0 328.3 L66.5 328.3 L67.0 328.3 L67.5 328.3 L68.0 328.3 L68.5 328.3 L69.0 328.3 L69.5 328.2 L70.0 328.3 L70.5 328.3 L71.0 328.3 L71.5 328.3 L72.0 328.3 L72.5 328.3 L73.0 328.3 L73.5 328.3 L74.0 328.3 L74.5 328.2 L75.0 328.3 L75.5 328.3 L76.0 328.3 L76.5 328.3 L77.0 328.3 L77.5 328.3 L78.0 328.3 L78.5 328.2 L79.0 328.2 L79.5 328.3 L80.0 328.3 L80.5 328.3 L81.0 328.3 L81.5 328.3 L82.0 328.3 L82.5 328.3 L83.0 328.2 L83.5 328.2 L84.0 328.2 L84.5 328.3 L85.0 328.3 L85.5 328.3 L86.0 328.3 L86.5 328.2 L87.0 328.2 L87.5 328.2 L88.0 328.2 L88.5 328.2 L89.0 328.2 L89.5 328.3 L90.0 328.3 L90.5 328.3 L91.0 328.2 L91.5 328.2 L92.0 328.2 L92.5 328.2 L93.0 328.2 L93.5 328.2 L94.0 328.3 L94.5 328.3 L95.0 328.2 L95.5 328.2 L96.0 328.2 L96.5 328.2 L97.0 328.2 L97.5 328.2 L98.0 328.2 L98.5 328.2 L99.0 328.3 L99.5 328.3 L100.0 328.2 L100.5 328.2 L101.0 328.2 L101.5 328.2 L102.0 328.2 L102.5 328.2 L103.0 328.2 L103.5 328.3 L104.0 328.2 L104.5 328.2 L105.0 328.2 L105.5 328.2 L106.0 328.2 L106.5 328.2 L107.0 328.2 L107.5 328.2 L108.0 328.3 L108.5 328.2 L109.0 328.2 L109.5 328.2 L110.0 328.1 L110.5 328.1 L111.0 328.1 L111.5 328.1 L112.0 328.1 L112.5 328.1 L113.0 328.0 L113.5 327.9 L114.0 327.9 L114.5 327.8 L115.0 327.7 L115.5 327.7 L116.0 327.7 L116.5 327.8 L117.0 327.8 L117.5 327.7 L118.0 327.6 L118.5 327.4 L119.0 327.3 L119.5 327.2 L120.0 327.4 L120.5 327.3 L121.0 327.4 L121.5 327.5 L122.0 327.3 L122.5 327.3 L123.0 327.1 L123.5 326.8 L124.0 326.9 L124.5 326.9 L125.0 327.1 L125.5 326.9 L126.0 326.7 L126.5 326.3 L127.0 326.0 L127.5 325.5 L128.0 324.8 L128.5 324.6 L129.0 324.4 L129.5 324.4 L130.0 324.6 L130.5 324.8 L131.0 324.4 L131.5 323.2 L132.0 322.4 L132.5 321.9 L133.0 321.9 L133.5 322.1 L134.0 322.1 L134.5 321.9 L135.0 322.7 L135.5 321.8 L136.0 320.4 L136.5 319.5 L137.0 318.0 L137.5 318.0 L138.0 317.9 L138.5 317.9 L139.0 317.7 L139.5 317.3 L140.0 316.5 L140.5 315.0 L141.0 313.7 L141.5 312.8 L142.0 312.1 L142.5 311.6 L143.0 311.6 L143.5 311.4 L144.0 310.8 L144.5 309.8 L145.0 308.3 L145.5 307.2 L146.0 305.6 L146.5 305.2 L147.0 304.6 L147.5 304.4 L148.0 304.2 L148.5 303.7 L149.0 302.0 L149.5 301.2 L150.0 299.0 L150.5 297.8 L151.0 297.1 L151.5 296.3 L152.0 296.0 L152.5 296.2 L153.0 295.8 L153.5 294.2 L154.0 293.0 L154.5 291.5 L155.0 289.6 L155.5 289.0 L156.0 288.4 L156.5 288.3 L157.0 287.7 L157.5 287.1 L158.0 286.2 L158.5 284.6 L159.0 283.3 L159.5 281.8 L160.0 281.2 L160.5 280.7 L161.0 280.5 L161.5 279.8 L162.0 280.0 L162.5 278.8 L163.0 277.4 L163.5 276.2 L164.0 274.6 L164.5 274.1 L165.0 273.4 L165.5 273.9 L166.0 273.4 L166.5 273.0 L167.0 272.3 L167.5 271.0 L168.0 269.8 L168.5 269.0 L169.0 267.8 L169.5 268.0 L170.0 267.8 L170.5 267.9 L171.0 267.8 L171.5 266.5 L172.0 265.7 L172.5 265.0 L173.0 263.3 L173.5 262.7 L174.0 262.7 L174.5 263.1 L175.0 263.5 L175.5 262.8 L176.0 262.5 L176.5 261.0 L177.0 259.7 L177.5 258.9 L178.0 258.2 L178.5 258.6 L179.0 258.5 L179.5 258.3 L180.0 258.3 L180.5 257.8 L181.0 256.7 L181.5 255.3 L182.0 254.3 L182.5 254.1 L183.0 254.3 L183.5 253.6 L184.0 253.7 L184.5 253.9 L185.0 253.0 L185.5 251.7 L186.0 250.6 L186.5 249.7 L187.0 249.4 L187.5 249.7 L188.0 249.8 L188.5 249.4 L189.0 249.6 L189.5 249.0 L190.0 248.4 L190.5 247.5 L191.0 246.1 L191.5 246.1 L192.0 246.3 L192.5 246.0 L193.0 246.4 L193.5 246.2 L194.0 245.0 L194.5 244.3 L195.0 242.8 L195.5 242.3 L196.0 241.9 L196.5 242.0 L197.0 241.6 L197.5 241.4 L198.0 242.0 L198.5 241.0 L199.0 240.0 L199.5 238.7 L200.0 237.7 L200.5 237.0 L201.0 236.8 L201.5 237.0 L202.0 237.3 L202.5 237.1 L203.0 236.3 L203.5 235.1 L204.0 234.1 L204.5 233.4 L205.0 232.3 L205.5 232.6 L206.0 232.4 L206.5 233.0 L207.0 232.7 L207.5 231.6 L208.0 230.4 L208.5 229.7 L209.0 228.6 L209.5 227.9 L210.0 227.8 L210.5 228.1 L211.0 228.3 L211.5 228.3 L212.0 227.6 L212.5 226.5 L213.0 225.5 L213.5 224.4 L214.0 223.6 L214.5 223.7 L215.0 223.6 L215.5 223.6 L216.0 223.4 L216.5 222.9 L217.0 221.5 L217.5 220.2 L218.0 219.6 L218.5 219.3 L219.0 219.1 L219.5 219.0 L220.0 219.3 L220.5 219.1 L221.0 218.1 L221.5 217.7 L222.0 216.8 L222.5 216.1 L223.0 215.4 L223.5 215.9 L224.0 215.5 L224.5 215.7 L225.0 216.4 L225.5 215.2 L226.0 214.2 L226.5 213.4 L227.0 212.7 L227.5 212.3 L228.0 212.7 L228.5 213.1 L229.0 212.9 L229.5 213.0 L230.0 212.6 L230.5 211.5 L231.0 211.1 L231.5 210.3 L232.0 210.2 L232.5 210.3 L233.0 211.0 L233.5 211.4 L234.0 211.9 L234.5 211.3 L235.0 210.1 L235.5 209.7 L236.0 208.8 L236.5 208.4 L237.0 209.3 L237.5 209.6 L238.0 210.2 L238.5 210.5 L239.0 209.9 L239.5 208.7 L240.0 208.0 L240.5 207.5 L241.0 207.5 L241.5 208.2 L242.0 208.4 L242.5 208.9 L243.0 209.5 L243.5 208.4 L244.0 208.2 L244.5 207.1 L245.0 206.7 L245.5 207.0 L246.0 207.4 L246.5 207.6 L247.0 208.0 L247.5 208.9 L248.0 207.8 L248.5 207.0 L249.0 206.6 L249.5 205.8 L250.0 206.3 L250.5 206.4 L251.0 207.8 L251.5 207.8 L252.0 208.5 L252.5 208.3 L253.0 207.7 L253.5 207.3 L254.0 206.7 L254.5 207.1 L255.0 207.6 L255.5 208.6 L256.0 209.9 L256.5 210.3 L257.0 210.0 L257.5 210.1 L258.0 210.1 L258.5 209.4 L259.0 209.7 L259.5 210.8 L260.0 211.7 L260.5 212.4 L261.0 212.8 L261.5 212.4 L262.0 212.6 L262.5 212.2 L263.0 212.0 L263.5 212.1 L264.0 212.6 L264.5 213.1 L265.0 214.4 L265.5 215.0 L266.0 214.5 L266.5 214.3 L267.0 213.8 L267.5 213.5 L268.0 213.9 L268.5 214.6 L269.0 215.6 L269.5 216.6 L270.0 217.3 L270.5 216.6 L271.0 216.5 L271.5 217.0 L272.0 216.6 L272.5 217.5 L273.0 218.0 L273.5 219.4 L274.0 220.6 L274.5 221.9 L275.0 222.0 L275.5 221.5 L276.0 221.9 L276.5 221.9 L277.0 222.0 L277.5 223.6 L278.0 224.4 L278.5 225.7 L279.0 226.1 L279.5 226.4 L280.0 226.2 L280.5 226.4 L281.0 226.4 L281.5 226.8 L282.0 228.3 L282.5 230.2 L283.0 231.7 L283.5 233.8 L284.0 234.1 L284.5 234.8 L285.0 235.2 L285.5 235.6 L286.0 237.0 L286.5 237.9 L287.0 239.7 L287.5 240.9 L288.0 242.7 L288.5 242.4 L289.0 243.3 L289.5 243.5 L290.0 243.4 L290.5 244.0 L291.0 245.1 L291.5 245.9 L292.0 247.1 L292.5 247.8 L293.0 247.6 L293.5 248.4 L294.0 248.5 L294.5 249.2 L295.0 249.6 L295.5 251.4 L296.0 253.0 L296.5 254.4 L297.0 255.8 L297.5 255.5 L298.0 255.9 L298.5 256.9 L299.0 257.9 L299.5 259.2 L300.0 261.8 L300.5 262.7 L301.0 264.5 L301.5 265.1 L302.0 264.9 L302.5 264.7 L303.0 264.9 L303.5 264.9 L304.0 265.6 L304.5 266.8 L305.0 267.5 L305.5 268.7 L306.0 269.5 L306.5 269.7 L307.0 269.8 L307.5 270.1 L308.0 268.5 L308.5 269.1 L309.0 270.6 L309.5 271.1 L310.0 271.7 L310.5 273.0 L311.0 273.8 L311.5 273.8 L312.0 275.2 L312.5 275.6 L313.0 275.7 L313.5 277.6 L314.0 280.8 L314.5 282.4 L315.0 283.9 L315.5 284.2 L316.0 283.5 L316.5 283.6 L317.0 283.3 L317.5 284.0 L318.0 285.5 L318.5 286.5 L319.0 287.3 L319.5 288.5 L320.0 284.9 L320.5 284.5 L321.0 285.0 L321.5 284.5 L322.0 283.9 L322.5 285.3 L323.0 286.5 L323.5 287.7 L324.0 291.9 L324.5 291.4 L325.0 292.0 L325.5 292.3 L326.0 292.6 L326.5 293.4 L327.0 294.2 L327.5 295.4 L328.0 295.2 L328.5 296.5 L329.0 295.8 L329.5 295.8 L330.0 296.5 L330.5 296.4 L331.0 296.8 L331.5 297.4 L332.0 297.2 L332.5 298.3 L333.0 298.3 L333.5 298.2 L334.0 297.0 L334.5 297.3 L335.0 297.1 L335.5 297.3 L336.0 298.6 L336.5 299.9 L337.0 301.0 L337.5 302.0 L338.0 303.7 L338.5 303.4 L339.0 303.7 L339.5 303.0 L340.0 303.1 L340.5 304.1 L341.0 305.4 L341.5 305.6 L342.0 306.3 L342.5 306.6 L343.0 305.9 L343.5 306.0 L344.0 308.7 L344.5 309.6 L345.0 309.9 L345.5 310.7 L346.0 308.2 L346.5 309.2 L347.0 309.0 L347.5 308.6 L348.0 309.1 L348.5 308.9 L349.0 308.8 L349.5 309.4 L350.0 309.1 L350.5 309.6 L351.0 310.4 L351.5 310.4 L352.0 311.0 L352.5 310.9 L353.0 310.9 L353.5 311.6 L354.0 312.7 L354.5 313.6 L355.0 314.3 L355.5 315.2 L356.0 312.8 L356.5 312.5 L357.0 311.9 L357.5 311.1 L358.0 314.9 L358.5 316.4 L359.0 316.9 L359.5 318.3 L360.0 314.3 L360.5 313.7 L361.0 313.9 L361.5 313.6 L362.0 313.2 L362.5 313.5 L363.0 314.1 L363.5 314.8 L364.0 312.1 L364.5 312.2 L365.0 312.0 L365.5 311.7 L366.0 315.6 L366.5 314.5 L367.0 314.5 L367.5 315.2 L368.0 321.0 L368.5 321.6 L369.0 322.1 L369.5 321.8 L370.0 312.4 L370.5 312.1 L371.0 311.7 L371.5 311.5 L372.0 320.2 L372.5 320.6 L373.0 321.3 L373.5 321.8 L374.0 323.3 L374.5 323.1 L375.0 322.5 L375.5 321.5 L376.0 321.3 L376.5 321.8 L377.0 322.7 L377.5 323.2 L378.0 320.4 L378.5 319.4 L379.0 319.0 L379.5 318.8 L380.0 314.1 L380.5 314.0 L381.0 314.9 L381.5 314.8 L382.0 320.5 L382.5 321.4 L383.0 320.9 L383.5 320.7 L384.0 323.2 L384.5 322.3 L385.0 322.5 L385.5 323.0 L386.0 319.3 L386.5 320.2 L387.0 320.5 L387.5 320.0 L388.0 316.7 L388.5 316.0 L389.0 316.2 L389.5 316.1 L390.0 321.3 L390.5 321.5 L391.0 322.1 L391.5 322.5 L392.0 325.7 L392.5 325.3 L393.0 324.8 L393.5 324.4 L394.0 312.5 L394.5 313.4 L395.0 313.5 L395.5 314.4 L396.0 317.2 L396.5 317.0 L397.0 316.5 L397.5 315.8 L398.0 319.8 L398.5 320.1 L399.0 320.5 L399.5 321.0 L400.0 322.2 L400.5 322.8 L401.0 322.8 L401.5 322.4 L402.0 320.8 L402.5 320.7 L403.0 320.7 L403.5 320.8 L404.0 323.9 L404.5 324.8 L405.0 325.0 L405.5 325.0 L406.0 320.9 L406.5 320.6 L407.0 320.1 L407.5 319.7 L408.0 317.7 L408.5 317.9 L409.0 318.2 L409.5 318.7 L410.0 318.5 L410.5 318.1 L411.0 317.3 L411.5 317.2 L412.0 323.3 L412.5 324.4 L413.0 324.3 L413.5 325.0 L414.0 327.9 L414.5 327.7 L415.0 327.1 L415.5 326.6 L416.0 325.3 L416.5 325.1 L417.0 325.7 L417.5 326.1 L418.0 319.5 L418.5 319.8 L419.0 319.4 L419.5 319.1 L420.0 318.3 L420.5 317.6 L421.0 317.5 L421.5 318.6 L422.0 325.2 L422.5 325.8 L423.0 325.8 L423.5 325.5 L424.0 326.5 L424.5 325.5 L425.0 325.5 L425.5 325.3 L426.0 321.9 L426.5 322.6 L427.0 322.9 L427.5 324.0 L428.0 321.8 L428.5 320.7 L429.0 320.4 L429.5 320.3 L430.0 317.5 L430.5 318.4 L431.0 319.1 L431.5 319.5 L432.0 323.7 L432.5 323.8 L433.0 323.2 L433.5 322.5 L434.0 317.4 L434.5 317.7 L435.0 318.1 L435.5 318.4 L436.0 321.0 L436.5 321.5 L437.0 321.0 L437.5 320.6 L438.0 320.2 L438.5 319.6 L439.0 319.7 L439.5 320.4 L440.0 320.5 L440.5 321.2 L441.0 321.5 L441.5 321.3 L442.0 314.6 L442.5 314.0 L443.0 313.6 L443.5 313.8 L444.0 318.9 L444.5 319.1 L445.0 320.0 L445.5 320.2 L446.0 322.0 L446.5 321.7 L447.0 320.8 L447.5 320.6 L448.0 321.1 L448.5 321.9 L449.0 321.8 L449.5 322.9 L450.0 321.5 L450.5 321.0 L451.0 320.0 L451.5 320.2 L452.0 318.8 L452.5 319.1 L453.0 319.6 L453.5 320.5 L454.0 325.5 L454.5 326.4 L455.0 325.2 L455.5 325.1 L456.0 323.9 L456.5 323.3 L457.0 323.4 L457.5 323.9 L458.0 320.8 L458.5 321.6 L459.0 321.7 L459.5 321.5 L460.0 322.0 L460.5 321.3 L461.0 321.0 L461.5 321.1 L462.0 320.2 L462.5 320.9 L463.0 321.3 L463.5 322.3 L464.0 320.0 L464.5 319.7 L465.0 319.3 L465.5 318.8 L466.0 316.2 L466.5 317.5 L467.0 317.4 L467.5 318.3 L468.0 322.4 L468.5 322.1 L469.0 321.4 L469.5 320.9 L470.0 316.0 L470.5 316.1 L471.0 316.7 L471.5 317.3 L472.0 329.0 L472.5 329.0 L473.0 329.0 L473.5 329.0 L474.0 319.6 L474.5 319.0 L475.0 318.9 L475.5 319.3 L476.0 321.7 L476.5 321.8 L477.0 322.7 L477.5 322.3 L478.0 322.7 L478.5 321.9 L479.0 321.6 L479.5 322.0 L480.0 328.8 L480.5 329.0 L481.0 329.0 L481.5 329.0 L482.0 321.3 L482.5 320.7 L483.0 320.5 L483.5 319.7 L484.0 323.1 L484.5 323.6 L485.0 323.8 L485.5 324.4 L486.0 323.6 L486.5 323.5 L487.0 322.4 L487.5 322.1 L488.0 322.4 L488.5 322.7 L489.0 323.1 L489.5 323.4 L490.0 327.8 L490.5 328.7 L491.0 328.1 L491.5 327.5 L492.0 325.1 L492.5 324.6 L493.0 324.5 L493.5 325.0 L494.0 319.4 L494.5 319.7 L495.0 320.2 L495.5 320.2 L496.0 323.0 L496.5 322.5 L497.0 322.3 L497.5 322.5 L498.0 327.9 L498.5 328.2 L499.0 328.8 L499.5 329.0 L500.0 323.2 L500.5 322.6 L501.0 322.0 L501.5 322.0 L502.0 324.8 L502.5 325.4 L503.0 325.5 L503.5 326.2 L504.0 320.7 L504.5 320.8 L505.0 320.4" fill="none" stroke="#f3908e" stroke-width="1.8"/>
<line x1="65.8" y1="34.2" x2="65.8" y2="330.7" stroke="#000" stroke-width="2.4"/>
<line x1="64.8" y1="329.5" x2="506" y2="329.5" stroke="#000" stroke-width="2.4"/>
<line x1="61" y1="329.5" x2="65.8" y2="329.5" stroke="#000" stroke-width="1.6"/>
<text transform="translate(48.47,333.55) scale(1.1632,1)" font-size="11.571" font-weight="normal" fill="#111" stroke="#111" stroke-width="0.2">0</text>
<line x1="61" y1="256.9" x2="65.8" y2="256.9" stroke="#000" stroke-width="1.6"/>
<text transform="translate(41,260.95) scale(1.1632,1)" font-size="11.571" font-weight="normal" fill="#111" stroke="#111" stroke-width="0.2">50</text>
<line x1="61" y1="184.3" x2="65.8" y2="184.3" stroke="#000" stroke-width="1.6"/>
<text transform="translate(33.53,188.35) scale(1.1632,1)" font-size="11.571" font-weight="normal" fill="#111" stroke="#111" stroke-width="0.2">100</text>
<line x1="61" y1="111.7" x2="65.8" y2="111.7" stroke="#000" stroke-width="1.6"/>
<text transform="translate(33.53,115.75) scale(1.1632,1)" font-size="11.571" font-weight="normal" fill="#111" stroke="#111" stroke-width="0.2">150</text>
<line x1="61" y1="39.1" x2="65.8" y2="39.1" stroke="#000" stroke-width="1.6"/>
<text transform="translate(33.53,43.15) scale(1.1632,1)" font-size="11.571" font-weight="normal" fill="#111" stroke="#111" stroke-width="0.2">200</text>
<line x1="65.6" y1="329.5" x2="65.6" y2="334.2" stroke="#000" stroke-width="1.6"/>
<text transform="translate(61.82,350.5) scale(1.1777,1)" font-size="11.571" font-weight="normal" fill="#111" stroke="#111" stroke-width="0.2">0</text>
<line x1="210.9" y1="329.5" x2="210.9" y2="334.2" stroke="#000" stroke-width="1.6"/>
<text transform="translate(203.27,350.5) scale(1.1777,1)" font-size="11.571" font-weight="normal" fill="#111" stroke="#111" stroke-width="0.2">20</text>
<line x1="356.2" y1="329.5" x2="356.2" y2="334.2" stroke="#000" stroke-width="1.6"/>
<text transform="translate(348.74,350.5) scale(1.1777,1)" font-size="11.571" font-weight="normal" fill="#111" stroke="#111" stroke-width="0.2">40</text>
<line x1="501.5" y1="329.5" x2="501.5" y2="334.2" stroke="#000" stroke-width="1.6"/>
<text transform="translate(493.87,350.5) scale(1.1777,1)" font-size="11.571" font-weight="normal" fill="#111" stroke="#111" stroke-width="0.2">60</text>
<text transform="translate(248.34,371.8) scale(0.7107,1)" font-size="15.172" font-weight="normal" fill="#111" stroke="#111" stroke-width="0.8">Minutes</text>
<text transform="translate(24.3,221.62) rotate(-90) scale(0.7731,1)" font-size="14.207" font-weight="normal" fill="#111" stroke="#111" stroke-width="0.6">Thrombin [nM]</text>
<line x1="249.3" y1="162.2" x2="265.3" y2="162.2" stroke="#ec8c8b" stroke-width="2.6"/>
<text transform="translate(269.25,166.3) scale(1.0951,1)" font-size="10.483" font-weight="normal" fill="#111" stroke="#111" stroke-width="0.2">baseline</text>
<line x1="336.8" y1="162.2" x2="352" y2="162.2" stroke="#000" stroke-width="2.6"/>
<text transform="translate(357.51,166) scale(1.1669,1)" font-size="10.483" font-weight="normal" fill="#111" stroke="#111" stroke-width="0.2">d1 DMSO</text>
<line x1="336.8" y1="177.1" x2="352" y2="177.1" stroke="#9a9a9a" stroke-width="2.2"/>
<text transform="translate(357.54,180.9) scale(1.0883,1)" font-size="10.483" font-weight="normal" fill="#111" stroke="#111" stroke-width="0.2">d1 Rivaroxaban (in vitro)</text>
<line x1="338.9" y1="192" x2="346" y2="192" stroke="#000" stroke-width="2.6" stroke-linecap="round"/>
<line x1="351.5" y1="192" x2="352" y2="192" stroke="#000" stroke-width="2.6" stroke-linecap="round"/>
<text transform="translate(357.51,195.8) scale(1.1669,1)" font-size="10.483" font-weight="normal" fill="#111" stroke="#111" stroke-width="0.2">d2 DMSO</text>
<line x1="338.9" y1="206.9" x2="346" y2="206.9" stroke="#9a9a9a" stroke-width="2.2" stroke-linecap="round"/>
<line x1="351.5" y1="206.9" x2="352" y2="206.9" stroke="#9a9a9a" stroke-width="2.2" stroke-linecap="round"/>
<text transform="translate(357.54,210.7) scale(1.0883,1)" font-size="10.483" font-weight="normal" fill="#111" stroke="#111" stroke-width="0.2">d2 Rivaroxaban (in vitro)</text>
<text transform="translate(11.31,395.6) scale(1.0055,1)" font-size="18.261" font-weight="bold" fill="#111" stroke="#111" stroke-width="0.5">B</text>
<line x1="65.6" y1="417.2" x2="65.6" y2="617.9" stroke="#000" stroke-width="2.4"/>
<line x1="64.6" y1="616.7" x2="254" y2="616.7" stroke="#000" stroke-width="2.4"/>
<line x1="60.4" y1="616.7" x2="65.6" y2="616.7" stroke="#000" stroke-width="1.8"/>
<line x1="60.4" y1="551.9" x2="65.6" y2="551.9" stroke="#000" stroke-width="1.8"/>
<line x1="60.4" y1="487.1" x2="65.6" y2="487.1" stroke="#000" stroke-width="1.8"/>
<line x1="60.4" y1="422.3" x2="65.6" y2="422.3" stroke="#000" stroke-width="1.8"/>
<text transform="translate(48,620.75) scale(1.2082,1)" font-size="11.571" font-weight="normal" fill="#111" stroke="#111" stroke-width="0.2">0</text>
<text transform="translate(40.24,555.95) scale(1.2082,1)" font-size="11.571" font-weight="normal" fill="#111" stroke="#111" stroke-width="0.2">10</text>
<text transform="translate(40.24,491.15) scale(1.2082,1)" font-size="11.571" font-weight="normal" fill="#111" stroke="#111" stroke-width="0.2">20</text>
<text transform="translate(40.24,426.35) scale(1.2082,1)" font-size="11.571" font-weight="normal" fill="#111" stroke="#111" stroke-width="0.2">30</text>
<rect x="79" y="547.5" width="26" height="69.2" fill="#a6002a"/>
<line x1="92" y1="539.2" x2="92" y2="547.5" stroke="#000" stroke-width="1.6"/>
<line x1="88" y1="539.2" x2="96" y2="539.2" stroke="#000" stroke-width="1.8"/>
<rect x="119.8" y="557" width="25.2" height="59.7" fill="#2e4882"/>
<line x1="132.4" y1="553" x2="132.4" y2="557" stroke="#000" stroke-width="1.6"/>
<line x1="128.4" y1="553" x2="136.4" y2="553" stroke="#000" stroke-width="1.8"/>
<rect x="145" y="508.5" width="26.2" height="108.2" fill="#6aaa3e"/>
<line x1="158.1" y1="495" x2="158.1" y2="508.5" stroke="#000" stroke-width="1.6"/>
<line x1="154.1" y1="495" x2="162.1" y2="495" stroke="#000" stroke-width="1.8"/>
<rect x="186" y="548.6" width="25.3" height="68.1" fill="#2e4882"/>
<line x1="198.65" y1="541.8" x2="198.65" y2="548.6" stroke="#000" stroke-width="1.6"/>
<line x1="194.65" y1="541.8" x2="202.65" y2="541.8" stroke="#000" stroke-width="1.8"/>
<rect x="211.3" y="460.5" width="26.5" height="156.2" fill="#6aaa3e"/>
<line x1="224.55" y1="433" x2="224.55" y2="460.5" stroke="#000" stroke-width="1.6"/>
<line x1="220.55" y1="433" x2="228.55" y2="433" stroke="#000" stroke-width="1.8"/>
<text transform="translate(69.41,632.4) scale(0.9870,1)" font-size="12.276" font-weight="normal" fill="#111" stroke="#111" stroke-width="0.2">baseline</text>
<text transform="translate(138.02,632.4) scale(0.9823,1)" font-size="12.276" font-weight="normal" fill="#111" stroke="#111" stroke-width="0.2">d1</text>
<text transform="translate(204.04,632.4) scale(1.1341,1)" font-size="12.276" font-weight="normal" fill="#111" stroke="#111" stroke-width="0.2">d2</text>
<line x1="120" y1="641" x2="237.8" y2="641" stroke="#000" stroke-width="1.5"/>
<text transform="translate(151.45,656.9) scale(0.9900,1)" font-size="12.552" font-weight="normal" fill="#111" stroke="#111" stroke-width="0.2">Ticagrelor</text>
<text transform="translate(31.5,562.19) rotate(-90) scale(0.8084,1)" font-size="13.793" font-weight="normal" fill="#111" stroke="#111" stroke-width="0.6">Lagtime [minutes]</text>
<line x1="315.3" y1="418" x2="315.3" y2="617.9" stroke="#000" stroke-width="2.4"/>
<line x1="314.3" y1="616.7" x2="504" y2="616.7" stroke="#000" stroke-width="2.4"/>
<line x1="310.4" y1="616.7" x2="315.3" y2="616.7" stroke="#000" stroke-width="1.8"/>
<line x1="310.4" y1="577.86" x2="315.3" y2="577.86" stroke="#000" stroke-width="1.8"/>
<line x1="310.4" y1="539.02" x2="315.3" y2="539.02" stroke="#000" stroke-width="1.8"/>
<line x1="310.4" y1="500.18" x2="315.3" y2="500.18" stroke="#000" stroke-width="1.8"/>
<line x1="310.4" y1="461.34" x2="315.3" y2="461.34" stroke="#000" stroke-width="1.8"/>
<line x1="310.4" y1="422.5" x2="315.3" y2="422.5" stroke="#000" stroke-width="1.8"/>
<text transform="translate(298,620.75) scale(1.2082,1)" font-size="11.571" font-weight="normal" fill="#111" stroke="#111" stroke-width="0.2">0</text>
<text transform="translate(290.24,581.91) scale(1.2082,1)" font-size="11.571" font-weight="normal" fill="#111" stroke="#111" stroke-width="0.2">10</text>
<text transform="translate(290.24,543.07) scale(1.2082,1)" font-size="11.571" font-weight="normal" fill="#111" stroke="#111" stroke-width="0.2">20</text>
<text transform="translate(290.24,504.23) scale(1.2082,1)" font-size="11.571" font-weight="normal" fill="#111" stroke="#111" stroke-width="0.2">30</text>
<text transform="translate(290.24,465.39) scale(1.2082,1)" font-size="11.571" font-weight="normal" fill="#111" stroke="#111" stroke-width="0.2">40</text>
<text transform="translate(290.24,426.55) scale(1.2082,1)" font-size="11.571" font-weight="normal" fill="#111" stroke="#111" stroke-width="0.2">50</text>
<rect x="328.8" y="531.6" width="25.9" height="85.1" fill="#a6002a"/>
<line x1="341.75" y1="526.5" x2="341.75" y2="531.6" stroke="#000" stroke-width="1.6"/>
<line x1="337.75" y1="526.5" x2="345.75" y2="526.5" stroke="#000" stroke-width="1.8"/>
<rect x="369.2" y="525.8" width="25.8" height="90.9" fill="#2e4882"/>
<line x1="382.1" y1="521.2" x2="382.1" y2="525.8" stroke="#000" stroke-width="1.6"/>
<line x1="378.1" y1="521.2" x2="386.1" y2="521.2" stroke="#000" stroke-width="1.8"/>
<rect x="395" y="475.75" width="26.25" height="140.95" fill="#6aaa3e"/>
<line x1="408.12" y1="468" x2="408.12" y2="475.75" stroke="#000" stroke-width="1.6"/>
<line x1="404.12" y1="468" x2="412.12" y2="468" stroke="#000" stroke-width="1.8"/>
<rect x="435.5" y="521.75" width="26.25" height="94.95" fill="#2e4882"/>
<line x1="448.62" y1="510.75" x2="448.62" y2="521.75" stroke="#000" stroke-width="1.6"/>
<line x1="444.62" y1="510.75" x2="452.62" y2="510.75" stroke="#000" stroke-width="1.8"/>
<rect x="461.75" y="467.5" width="25.75" height="149.2" fill="#6aaa3e"/>
<line x1="474.62" y1="453" x2="474.62" y2="467.5" stroke="#000" stroke-width="1.6"/>
<line x1="470.62" y1="453" x2="478.62" y2="453" stroke="#000" stroke-width="1.8"/>
<text transform="translate(318.8,632.4) scale(0.9701,1)" font-size="12.690" font-weight="normal" fill="#111" stroke="#111" stroke-width="0.2">baseline</text>
<text transform="translate(385.94,632.4) scale(1.1048,1)" font-size="12.690" font-weight="normal" fill="#111" stroke="#111" stroke-width="0.2">d1</text>
<text transform="translate(455.27,632.4) scale(1.0353,1)" font-size="12.690" font-weight="normal" fill="#111" stroke="#111" stroke-width="0.2">d2</text>
<line x1="369.2" y1="640.8" x2="487.7" y2="640.8" stroke="#000" stroke-width="1.5"/>
<text transform="translate(401.26,656.9) scale(0.9754,1)" font-size="12.552" font-weight="normal" fill="#111" stroke="#111" stroke-width="0.2">Ticagrelor</text>
<text transform="translate(283,573.22) rotate(-90) scale(0.6576,1)" font-size="16.828" font-weight="normal" fill="#111" stroke="#111" stroke-width="0.3">Time to peak [minutes]</text>
<rect x="378" y="670.1" width="13.6" height="11.5" fill="#2e4882"/>
<rect x="378" y="688.8" width="13.6" height="11" fill="#6aaa3e"/>
<text transform="translate(395.51,680.2) scale(0.9952,1)" font-size="12.429" font-weight="normal" fill="#111" stroke="#111" stroke-width="0.2">DMSO</text>
<text transform="translate(395.59,697.9) scale(0.9039,1)" font-size="12.552" fill="#111" stroke="#111" stroke-width="0.2">Rivaroxaban (<tspan font-style="italic">in vitro</tspan>)</text>
<line x1="65.7" y1="713.4" x2="65.7" y2="908.5" stroke="#000" stroke-width="2.4"/>
<line x1="64.7" y1="907.3" x2="248.6" y2="907.3" stroke="#000" stroke-width="2.4"/>
<line x1="60.2" y1="907.3" x2="65.7" y2="907.3" stroke="#000" stroke-width="1.8"/>
<line x1="60.2" y1="859.92" x2="65.7" y2="859.92" stroke="#000" stroke-width="1.8"/>
<line x1="60.2" y1="812.55" x2="65.7" y2="812.55" stroke="#000" stroke-width="1.8"/>
<line x1="60.2" y1="765.17" x2="65.7" y2="765.17" stroke="#000" stroke-width="1.8"/>
<line x1="60.2" y1="717.8" x2="65.7" y2="717.8" stroke="#000" stroke-width="1.8"/>
<text transform="translate(48.49,911.35) scale(1.1597,1)" font-size="11.571" font-weight="normal" fill="#111" stroke="#111" stroke-width="0.2">0</text>
<text transform="translate(41.04,863.97) scale(1.1597,1)" font-size="11.571" font-weight="normal" fill="#111" stroke="#111" stroke-width="0.2">25</text>
<text transform="translate(41.04,816.6) scale(1.1597,1)" font-size="11.571" font-weight="normal" fill="#111" stroke="#111" stroke-width="0.2">50</text>
<text transform="translate(41.04,769.22) scale(1.1431,1)" font-size="11.739" font-weight="normal" fill="#111" stroke="#111" stroke-width="0.2">75</text>
<text transform="translate(33.59,721.85) scale(1.1597,1)" font-size="11.571" font-weight="normal" fill="#111" stroke="#111" stroke-width="0.2">100</text>
<rect x="74" y="755.4" width="25.6" height="151.9" fill="#a6002a"/>
<line x1="86.8" y1="745.7" x2="86.8" y2="755.4" stroke="#000" stroke-width="1.6"/>
<line x1="82.8" y1="745.7" x2="90.8" y2="745.7" stroke="#000" stroke-width="1.8"/>
<rect x="114.7" y="746.8" width="25.7" height="160.5" fill="#2e4882"/>
<line x1="127.55" y1="738" x2="127.55" y2="746.8" stroke="#000" stroke-width="1.6"/>
<line x1="123.55" y1="738" x2="131.55" y2="738" stroke="#000" stroke-width="1.8"/>
<rect x="140.4" y="807.8" width="25.4" height="99.5" fill="#6aaa3e"/>
<line x1="153.1" y1="798.5" x2="153.1" y2="807.8" stroke="#000" stroke-width="1.6"/>
<line x1="149.1" y1="798.5" x2="157.1" y2="798.5" stroke="#000" stroke-width="1.8"/>
<rect x="180.8" y="763" width="25.4" height="144.3" fill="#2e4882"/>
<line x1="193.5" y1="750.8" x2="193.5" y2="763" stroke="#000" stroke-width="1.6"/>
<line x1="189.5" y1="750.8" x2="197.5" y2="750.8" stroke="#000" stroke-width="1.8"/>
<rect x="206.2" y="848.2" width="25.8" height="59.1" fill="#6aaa3e"/>
<line x1="219.1" y1="831.5" x2="219.1" y2="848.2" stroke="#000" stroke-width="1.6"/>
<line x1="215.1" y1="831.5" x2="223.1" y2="831.5" stroke="#000" stroke-width="1.8"/>
<text transform="translate(63.61,923.4) scale(0.9592,1)" font-size="12.690" font-weight="normal" fill="#111" stroke="#111" stroke-width="0.2">baseline</text>
<text transform="translate(133.05,923.4) scale(0.8885,1)" font-size="12.690" font-weight="normal" fill="#111" stroke="#111" stroke-width="0.2">d1</text>
<text transform="translate(199.08,923.4) scale(1.0198,1)" font-size="12.690" font-weight="normal" fill="#111" stroke="#111" stroke-width="0.2">d2</text>
<line x1="114.3" y1="931.5" x2="232.4" y2="931.5" stroke="#000" stroke-width="1.5"/>
<text transform="translate(146.76,947.4) scale(0.9717,1)" font-size="12.552" font-weight="normal" fill="#111" stroke="#111" stroke-width="0.2">Ticagrelor</text>
<text transform="translate(23.3,847.53) rotate(-90) scale(0.8894,1)" font-size="12.828" font-weight="normal" fill="#111" stroke="#111" stroke-width="0.6">Thrombin [nM]</text>
<line x1="320.2" y1="713.4" x2="320.2" y2="908.5" stroke="#000" stroke-width="2.4"/>
<line x1="319.2" y1="907.3" x2="502.7" y2="907.3" stroke="#000" stroke-width="2.4"/>
<line x1="315.4" y1="907.3" x2="320.2" y2="907.3" stroke="#000" stroke-width="1.8"/>
<line x1="315.4" y1="859.92" x2="320.2" y2="859.92" stroke="#000" stroke-width="1.8"/>
<line x1="315.4" y1="812.55" x2="320.2" y2="812.55" stroke="#000" stroke-width="1.8"/>
<line x1="315.4" y1="765.17" x2="320.2" y2="765.17" stroke="#000" stroke-width="1.8"/>
<line x1="315.4" y1="717.8" x2="320.2" y2="717.8" stroke="#000" stroke-width="1.8"/>
<text transform="translate(293.36,911.35) scale(1.0909,1)" font-size="11.571" font-weight="normal" fill="#111" stroke="#111" stroke-width="0.2">0.0</text>
<text transform="translate(293.36,863.97) scale(1.0909,1)" font-size="11.571" font-weight="normal" fill="#111" stroke="#111" stroke-width="0.2">2.5</text>
<text transform="translate(293.36,816.6) scale(1.0909,1)" font-size="11.571" font-weight="normal" fill="#111" stroke="#111" stroke-width="0.2">5.0</text>
<text transform="translate(293.36,769.22) scale(1.0753,1)" font-size="11.739" font-weight="normal" fill="#111" stroke="#111" stroke-width="0.2">7.5</text>
<text transform="translate(286.35,721.85) scale(1.0909,1)" font-size="11.571" font-weight="normal" fill="#111" stroke="#111" stroke-width="0.2">10.0</text>
<rect x="328.2" y="765.1" width="25.6" height="142.2" fill="#a6002a"/>
<line x1="341" y1="752.6" x2="341" y2="765.1" stroke="#000" stroke-width="1.6"/>
<line x1="337" y1="752.6" x2="345" y2="752.6" stroke="#000" stroke-width="1.8"/>
<rect x="368.8" y="779" width="25.5" height="128.3" fill="#2e4882"/>
<line x1="381.55" y1="766.2" x2="381.55" y2="779" stroke="#000" stroke-width="1.6"/>
<line x1="377.55" y1="766.2" x2="385.55" y2="766.2" stroke="#000" stroke-width="1.8"/>
<rect x="394.3" y="856.5" width="25.7" height="50.8" fill="#6aaa3e"/>
<line x1="407.15" y1="852" x2="407.15" y2="856.5" stroke="#000" stroke-width="1.6"/>
<line x1="403.15" y1="852" x2="411.15" y2="852" stroke="#000" stroke-width="1.8"/>
<rect x="435" y="806.2" width="25.3" height="101.1" fill="#2e4882"/>
<line x1="447.65" y1="791.2" x2="447.65" y2="806.2" stroke="#000" stroke-width="1.6"/>
<line x1="443.65" y1="791.2" x2="451.65" y2="791.2" stroke="#000" stroke-width="1.8"/>
<rect x="460.3" y="875.5" width="26.7" height="31.8" fill="#6aaa3e"/>
<line x1="473.65" y1="867" x2="473.65" y2="875.5" stroke="#000" stroke-width="1.6"/>
<line x1="469.65" y1="867" x2="477.65" y2="867" stroke="#000" stroke-width="1.8"/>
<text transform="translate(318.21,923.4) scale(0.9570,1)" font-size="12.690" font-weight="normal" fill="#111" stroke="#111" stroke-width="0.2">baseline</text>
<text transform="translate(386.78,923.4) scale(1.0198,1)" font-size="12.690" font-weight="normal" fill="#111" stroke="#111" stroke-width="0.2">d1</text>
<text transform="translate(452.93,923.4) scale(1.1203,1)" font-size="12.690" font-weight="normal" fill="#111" stroke="#111" stroke-width="0.2">d2</text>
<line x1="368.9" y1="931.7" x2="486.5" y2="931.7" stroke="#000" stroke-width="1.5"/>
<text transform="translate(401.26,947.4) scale(0.9754,1)" font-size="12.552" font-weight="normal" fill="#111" stroke="#111" stroke-width="0.2">Ticagrelor</text>
<text transform="translate(276.5,864.06) rotate(-90) scale(0.7701,1)" font-size="14.759" font-weight="normal" fill="#111" stroke="#111" stroke-width="0.6">Velocity [nM/minutes]</text>
<ellipse cx="158.2" cy="481.3" rx="1.45" ry="1.3" fill="#111"/>
<text transform="translate(213.45,410.7) scale(0.8823,1)" font-size="12.409" font-weight="normal" fill="#111" stroke="#111" stroke-width="0.45">#</text>
<text transform="translate(221.71,410.7) scale(0.8823,1)" font-size="12.409" font-weight="normal" fill="#111" stroke="#111" stroke-width="0.45">#</text>
<text transform="translate(229.98,410.7) scale(0.8823,1)" font-size="12.409" font-weight="normal" fill="#111" stroke="#111" stroke-width="0.45">#</text>
<ellipse cx="220.6" cy="418.8" rx="1.45" ry="1.3" fill="#111"/>
<ellipse cx="225" cy="418.8" rx="1.45" ry="1.3" fill="#111"/>
<ellipse cx="229.4" cy="418.8" rx="1.45" ry="1.3" fill="#111"/>
<text transform="translate(397.15,445.9) scale(0.9000,1)" font-size="11.825" font-weight="normal" fill="#111" stroke="#111" stroke-width="0.45">#</text>
<text transform="translate(405.25,445.9) scale(0.9000,1)" font-size="11.825" font-weight="normal" fill="#111" stroke="#111" stroke-width="0.45">#</text>
<text transform="translate(413.35,445.9) scale(0.9000,1)" font-size="11.825" font-weight="normal" fill="#111" stroke="#111" stroke-width="0.45">#</text>
<ellipse cx="403.7" cy="454.7" rx="1.45" ry="1.3" fill="#111"/>
<ellipse cx="408.15" cy="454.7" rx="1.45" ry="1.3" fill="#111"/>
<ellipse cx="412.6" cy="454.7" rx="1.45" ry="1.3" fill="#111"/>
<text transform="translate(463.15,430.6) scale(0.9155,1)" font-size="11.825" font-weight="normal" fill="#111" stroke="#111" stroke-width="0.45">#</text>
<text transform="translate(471.35,430.6) scale(0.9155,1)" font-size="11.825" font-weight="normal" fill="#111" stroke="#111" stroke-width="0.45">#</text>
<text transform="translate(479.55,430.6) scale(0.9155,1)" font-size="11.825" font-weight="normal" fill="#111" stroke="#111" stroke-width="0.45">#</text>
<ellipse cx="470.1" cy="439" rx="1.45" ry="1.3" fill="#111"/>
<ellipse cx="474.7" cy="439" rx="1.45" ry="1.3" fill="#111"/>
<ellipse cx="479.3" cy="439" rx="1.45" ry="1.3" fill="#111"/>
<text transform="translate(149.49,775.55) scale(1.0647,1)" font-size="11.460" font-weight="normal" fill="#111" stroke="#111" stroke-width="0.45">#</text>
<ellipse cx="150.6" cy="784.5" rx="1.45" ry="1.3" fill="#111"/>
<ellipse cx="155.4" cy="784.5" rx="1.45" ry="1.3" fill="#111"/>
<text transform="translate(208.49,808.9) scale(0.8949,1)" font-size="12.336" font-weight="normal" fill="#111" stroke="#111" stroke-width="0.45">#</text>
<text transform="translate(216.81,808.9) scale(0.8949,1)" font-size="12.336" font-weight="normal" fill="#111" stroke="#111" stroke-width="0.45">#</text>
<text transform="translate(225.13,808.9) scale(0.8949,1)" font-size="12.336" font-weight="normal" fill="#111" stroke="#111" stroke-width="0.45">#</text>
<ellipse cx="214.8" cy="817.6" rx="1.45" ry="1.3" fill="#111"/>
<ellipse cx="219.4" cy="817.6" rx="1.45" ry="1.3" fill="#111"/>
<ellipse cx="224" cy="817.6" rx="1.45" ry="1.3" fill="#111"/>
<text transform="translate(396.45,829.9) scale(0.9000,1)" font-size="11.825" font-weight="normal" fill="#111" stroke="#111" stroke-width="0.45">#</text>
<text transform="translate(404.55,829.9) scale(0.9000,1)" font-size="11.825" font-weight="normal" fill="#111" stroke="#111" stroke-width="0.45">#</text>
<text transform="translate(412.65,829.9) scale(0.9000,1)" font-size="11.825" font-weight="normal" fill="#111" stroke="#111" stroke-width="0.45">#</text>
<ellipse cx="402.1" cy="838.4" rx="1.45" ry="1.3" fill="#111"/>
<ellipse cx="407" cy="838.4" rx="1.45" ry="1.3" fill="#111"/>
<ellipse cx="411.9" cy="838.4" rx="1.45" ry="1.3" fill="#111"/>
<text transform="translate(462.45,843.9) scale(0.9507,1)" font-size="11.387" font-weight="normal" fill="#111" stroke="#111" stroke-width="0.45">#</text>
<text transform="translate(470.65,843.9) scale(0.9507,1)" font-size="11.387" font-weight="normal" fill="#111" stroke="#111" stroke-width="0.45">#</text>
<text transform="translate(478.85,843.9) scale(0.9507,1)" font-size="11.387" font-weight="normal" fill="#111" stroke="#111" stroke-width="0.45">#</text>
<ellipse cx="471" cy="852.5" rx="1.45" ry="1.3" fill="#111"/>
<ellipse cx="476" cy="852.5" rx="1.45" ry="1.3" fill="#111"/>
<rect x="1" y="1" width="518" height="960" fill="none" stroke="#000" stroke-width="2.2"/>
</svg></body></html>
